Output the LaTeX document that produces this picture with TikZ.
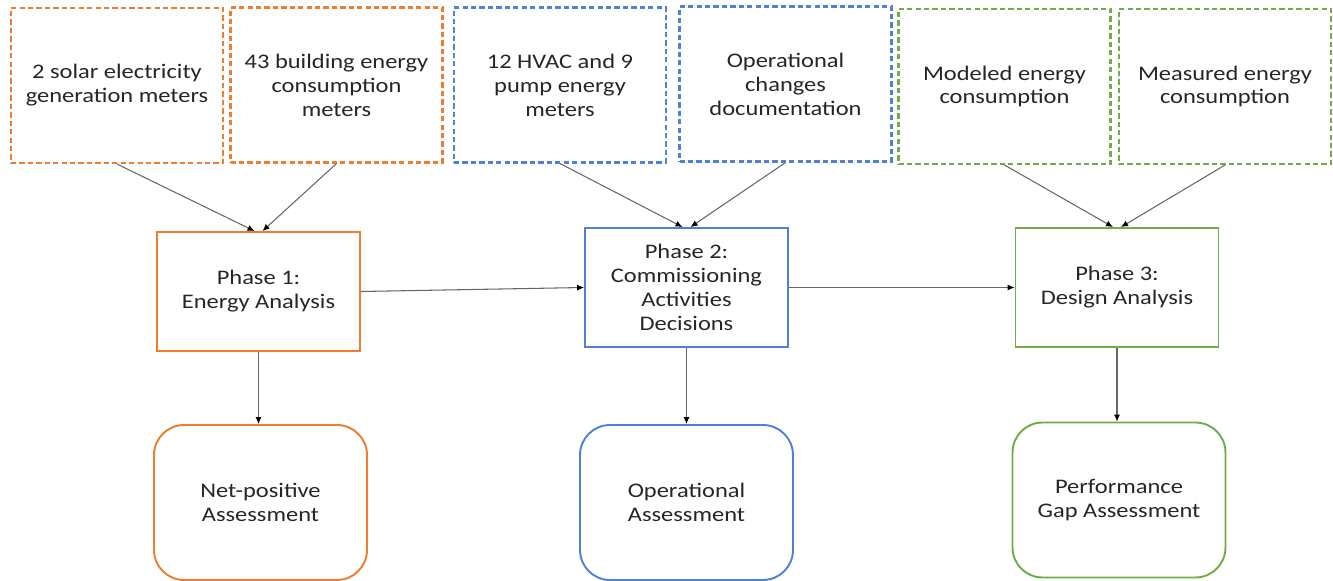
\documentclass[tikz,border=0pt]{standalone}
\usepackage{fontspec}
\setmainfont{Carlito}[FakeStretch=1.18]
\usepackage{tikz}
\usetikzlibrary{arrows.meta}
\definecolor{phorange}{HTML}{ED7D31}
\definecolor{phblue}{HTML}{5082D2}
\definecolor{phgreen}{HTML}{70AD47}
\tikzset{
  boxtext/.style={align=center, text=black!85, inner sep=0pt, font=\fontsize{11.8}{13.6}\selectfont},
  src/.style={boxtext, draw=#1, line width=1.2pt, dash pattern=on 3pt off 1.8pt, minimum width=4.24cm, minimum height=3.1cm},
  phase/.style={boxtext, draw=#1, line width=1.1pt, minimum width=4.06cm, minimum height=2.38cm},
  outcome/.style={boxtext, draw=#1, line width=1.1pt, rounded corners=0.6cm, minimum width=4.26cm, minimum height=3.1cm},
  link/.style={draw=black!60, line width=0.6pt, -{Latex[length=4pt,width=3.5pt,color=black]}}
}

\begin{document}
\begin{tikzpicture}[x=0.02cm, y=-0.02cm]
\useasboundingbox (0,0) rectangle (1333,581);
% data sources
\node[src=phorange] (solar) at (117,85.5) {2 solar electricity\\generation meters};
\node[src=phorange] (bldg) at (336.5,85) {43 building energy\\consumption\\meters};
\node[src=phblue] (hvac) at (560,85) {12 HVAC and 9\\pump energy\\meters};
\node[src=phblue] (opdoc) at (785.5,84) {Operational\\changes\\documentation};
\node[src=phgreen] (model) at (1004.5,86.5) {Modeled energy\\consumption};
\node[src=phgreen] (meas) at (1225,86.5) {Measured energy\\consumption};
% phases
\node[phase=phorange] (ph1) at (258.5,291.5) {Phase 1:\\Energy Analysis};
\node[phase=phblue] (ph2) at (686.5,287.5) {Phase 2:\\Commissioning\\Activities\\Decisions};
\node[phase=phgreen] (ph3) at (1117,287.5) {Phase 3:\\Design Analysis};
% assessments
\node[outcome=phorange] (netpos) at (260.5,502.5) {Net-positive\\Assessment};
\node[outcome=phblue] (oper) at (686.5,502.5) {Operational\\Assessment};
\node[outcome=phgreen] (gap) at (1119,500) {Performance\\Gap Assessment};
% connectors
\draw[link] (solar.south) -- ([xshift=-0.08cm]ph1.north);
\draw[link] (bldg.south) -- ([xshift=0.08cm]ph1.north);
\draw[link] (hvac.south) -- ([xshift=-0.08cm]ph2.north);
\draw[link] (opdoc.south) -- ([xshift=0.08cm]ph2.north);
\draw[link] (model.south) -- ([xshift=-0.08cm]ph3.north);
\draw[link] (meas.south) -- ([xshift=0.08cm]ph3.north);
\draw[link] (ph1.east) -- (ph2.west);
\draw[link] (ph2.east) -- (ph3.west);
\draw[link] (ph1.south) -- (ph1.south |- netpos.north);
\draw[link] (ph2.south) -- (oper.north);
\draw[link] (ph3.south) -- (ph3.south |- gap.north);
\end{tikzpicture}
\end{document}
